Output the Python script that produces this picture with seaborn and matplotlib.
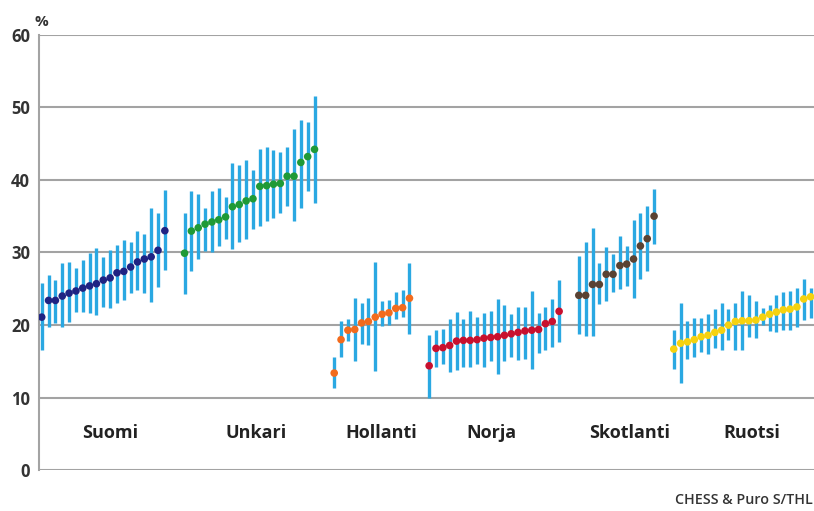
import numpy as np
import pandas as pd
import matplotlib
matplotlib.use("Agg")
import matplotlib.pyplot as plt
import seaborn as sns

# Share (%) per unit with confidence interval, by country
countries = ["Suomi", "Unkari", "Hollanti", "Norja", "Skotlanti", "Ruotsi"]

suomi_mean = [21.1, 23.4, 23.4, 24.0, 24.4, 24.7, 25.1, 25.4, 25.7, 26.2, 26.5, 27.2, 27.4, 28.0, 28.7, 29.1, 29.4, 30.3, 33.0]
suomi_low = [16.6, 19.8, 20.3, 19.7, 20.4, 21.8, 21.8, 21.6, 21.4, 22.5, 22.3, 23.0, 23.4, 24.4, 24.8, 24.4, 23.2, 25.3, 27.6]
suomi_high = [25.8, 26.9, 26.2, 28.5, 28.7, 27.9, 29.0, 29.9, 30.6, 29.4, 30.3, 31.0, 31.7, 31.5, 32.9, 32.6, 36.1, 35.4, 38.6]

unkari_mean = [29.9, 32.95, 33.4, 33.9, 34.2, 34.5, 34.9, 36.3, 36.6, 37.1, 37.4, 39.1, 39.2, 39.4, 39.5, 40.5, 40.5, 42.4, 43.2, 44.2]
unkari_low = [24.3, 27.5, 29.1, 30.2, 30.0, 30.9, 31.8, 30.5, 31.4, 31.8, 33.2, 33.6, 34.3, 34.8, 35.5, 36.4, 34.3, 36.1, 38.4, 36.8]
unkari_high = [35.5, 38.4, 38.0, 36.1, 38.4, 38.9, 37.7, 42.3, 42.0, 42.7, 41.4, 44.3, 44.5, 44.1, 43.9, 44.5, 47.0, 48.3, 48.0, 51.5]

hollanti_mean = [13.4, 18.0, 19.3, 19.4, 20.3, 20.5, 21.1, 21.5, 21.7, 22.3, 22.4, 23.7]
hollanti_low = [11.4, 15.6, 17.8, 15.1, 17.4, 17.2, 13.7, 19.9, 20.0, 20.8, 21.1, 18.8]
hollanti_high = [15.6, 20.6, 20.9, 23.8, 23.0, 23.8, 28.7, 23.3, 23.5, 24.6, 24.9, 28.5]

norja_mean = [14.4, 16.8, 16.9, 17.2, 17.8, 17.9, 17.9, 18.0, 18.2, 18.3, 18.4, 18.6, 18.8, 19.0, 19.2, 19.3, 19.4, 20.2, 20.5, 21.9]
norja_low = [9.9, 14.3, 14.7, 13.6, 13.8, 14.3, 14.3, 14.7, 14.3, 15.0, 13.3, 15.0, 15.6, 15.2, 15.4, 14.0, 16.1, 16.6, 17.0, 17.7]
norja_high = [18.6, 19.3, 19.4, 20.8, 21.8, 20.9, 21.9, 21.1, 21.6, 21.9, 23.6, 22.8, 21.5, 22.5, 22.5, 24.7, 21.6, 22.5, 23.6, 26.2]

skotlanti_mean = [24.1, 24.1, 25.6, 25.6, 27.0, 27.0, 28.2, 28.4, 29.1, 30.9, 31.9, 35.0]
skotlanti_low = [18.8, 18.5, 18.5, 22.9, 23.3, 24.5, 25.0, 25.4, 23.8, 26.3, 27.5, 31.1]
skotlanti_high = [29.5, 31.4, 33.4, 28.5, 30.7, 29.8, 32.3, 30.9, 34.5, 35.5, 36.4, 38.8]

ruotsi_mean = [16.7, 17.5, 17.7, 18.0, 18.4, 18.6, 19.0, 19.3, 20.0, 20.5, 20.6, 20.6, 20.7, 21.1, 21.5, 21.8, 22.1, 22.2, 22.5, 23.6, 23.9]
ruotsi_low = [14.0, 12.0, 15.4, 15.6, 16.3, 16.0, 16.8, 16.6, 17.9, 16.6, 16.6, 18.4, 18.2, 20.0, 19.2, 19.1, 19.3, 19.3, 19.8, 20.7, 21.0]
ruotsi_high = [19.3, 23.0, 20.6, 21.0, 21.0, 21.5, 22.2, 23.0, 22.2, 23.0, 24.7, 24.2, 23.3, 22.4, 22.8, 24.1, 24.6, 24.7, 25.1, 26.4, 25.1]

y_ticks = [0, 10, 20, 30, 40, 50, 60]
source_text = "CHESS & Puro S/THL"

series = {
    "Suomi": (suomi_mean, suomi_low, suomi_high),
    "Unkari": (unkari_mean, unkari_low, unkari_high),
    "Hollanti": (hollanti_mean, hollanti_low, hollanti_high),
    "Norja": (norja_mean, norja_low, norja_high),
    "Skotlanti": (skotlanti_mean, skotlanti_low, skotlanti_high),
    "Ruotsi": (ruotsi_mean, ruotsi_low, ruotsi_high),
}

dot_colors = {
    "Suomi": "#1f2383",
    "Unkari": "#1f9a36",
    "Hollanti": "#f26b1d",
    "Norja": "#c8102e",
    "Skotlanti": "#5a4232",
    "Ruotsi": "#f6d20f",
}
bar_color = "#2aa8e2"
grid_color = "#a3a3a3"
text_color = "#333333"
group_gap = 2.88

# Build a long table: units laid out left to right, groups separated by a gap
rows = []
start = 0.0
for c in countries:
    m, lo, hi = series[c]
    for i, (mv, lv, hv) in enumerate(zip(m, lo, hi)):
        rows.append({"country": c, "pos": start + i, "value": mv, "low": lv, "high": hv})
    start = start + len(m) - 1 + group_gap
df = pd.DataFrame(rows)

sns.set_theme(style="white")
plt.rcParams["font.family"] = ["Open Sans", "DejaVu Sans"]

fig = plt.figure(figsize=(8.14, 5.11), dpi=100)
ax = fig.add_axes([0.0473, 0.0795, 0.9527, 0.8528])

ax.vlines(df["pos"], df["low"], df["high"], color=bar_color, linewidth=2.4, zorder=2)
sns.scatterplot(data=df, x="pos", y="value", hue="country", palette=dot_colors,
                s=30, linewidth=0, legend=False, ax=ax, zorder=3)

ax.set_ylim(0, 60)
ax.set_xlim(-0.47, 112.9)
ax.set_yticks(y_ticks)
ax.set_yticklabels([str(t) for t in y_ticks], fontsize=12, fontweight="bold", color=text_color)
ax.set_xticks([])
ax.set_xlabel("")
ax.set_ylabel("")
ax.tick_params(axis="y", length=0, pad=6)
ax.yaxis.grid(True, color=grid_color, linewidth=1.5)
ax.set_axisbelow(True)
for side in ["top", "right", "bottom"]:
    ax.spines[side].set_visible(False)
ax.spines["left"].set_color(grid_color)
ax.spines["left"].set_linewidth(1.5)

# Country names under each group
label_x = [10.0, 31.3, 49.6, 65.8, 86.0, 103.8]
for c, lx in zip(countries, label_x):
    ax.text(lx, 5.1, c, ha="center", va="center", fontsize=13,
            fontweight="bold", color="#222222")

fig.text(41 / 814, 1 - 22 / 511, "%", ha="center", va="center", fontsize=11,
         fontweight="bold", color=text_color)
fig.text(0.999, 1 - 500 / 511, source_text, ha="right", va="center", fontsize=10.3,
         fontweight="semibold", color=text_color)

fig.savefig("out.png", dpi=100)
